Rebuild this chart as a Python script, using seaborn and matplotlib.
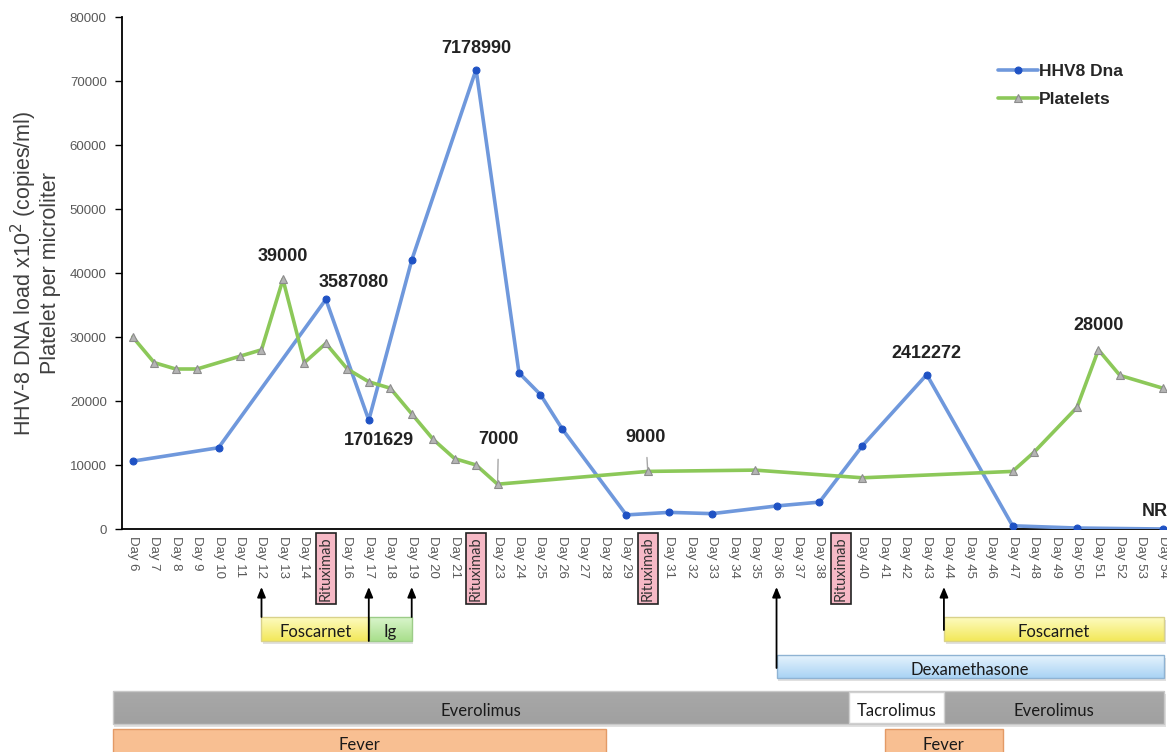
import numpy as np
import pandas as pd
import matplotlib
matplotlib.use("Agg")
import matplotlib.pyplot as plt
import seaborn as sns
from matplotlib.patches import Rectangle
from matplotlib.colors import LinearSegmentedColormap

# ---------------- data ----------------
days = list(range(6, 55))
rituximab_days = [15, 22, 30, 39]
day_labels = ["Rituximab" if d in rituximab_days else f"Day {d}" for d in days]

# HHV-8 DNA load in copies/ml (plotted as x10^2)
hhv8_days = [6, 10, 15, 17, 19, 22, 24, 25, 26, 29, 31, 33, 36, 38, 40, 43, 47, 50, 54]
hhv8_copies = [1060000, 1270000, 3587080, 1701629, 4200000, 7178990, 2440000, 2100000,
               1570000, 220000, 260000, 240000, 360000, 420000, 1300000, 2412272,
               50000, 15000, 0]
hhv8_labelled = [15, 17, 22, 43]

# platelets per microliter
platelet_days = [6, 7, 8, 9, 11, 12, 13, 14, 15, 16, 17, 18, 19, 20, 21, 22, 23,
                 30, 35, 40, 47, 48, 50, 51, 52, 54]
platelets = [30000, 26000, 25000, 25000, 27000, 28000, 39000, 26000, 29000, 25000,
             23000, 22000, 18000, 14000, 11000, 10000, 7000, 9000, 9200, 8000,
             9000, 12000, 19000, 28000, 24000, 22000]
platelet_labelled = [13, 23, 30, 51]

# treatments and events (start day, end day)
antiviral_names = ["Foscarnet", "Ig", "Foscarnet"]
antiviral_start = [12, 17, 43.8]
antiviral_end = [17, 19, 54.05]
steroid_names = ["Dexamethasone"]
steroid_start = [36]
steroid_end = [54.05]
immuno_names = ["Everolimus", "Tacrolimus"]
immuno_start = [5.07, 39.4]
immuno_end = [54.05, 43.8]
fever_start = [5.07, 41.04]
fever_end = [28.04, 46.54]
arrow_days = [12, 17, 19, 36, 43.8]

# ---------------- style ----------------
sns.set_style("white")
plt.rcParams["font.family"] = ["Liberation Sans", "DejaVu Sans"]

W, H = 1167, 752
fig = plt.figure(figsize=(W / 100, H / 100), dpi=100)

x_lo, x_hi = 5.5, 54.5
px_per_day = 21.46
left_px = 122
right_px = left_px + (x_hi - x_lo) * px_per_day
ax = fig.add_axes([left_px / W, 1 - 529 / H, (right_px - left_px) / W, (529 - 17) / H])
ax2 = fig.add_axes([left_px / W, 0, (right_px - left_px) / W, 172 / H], sharex=ax)

blue_line, blue_mark = "#6f98dc", "#1f52c4"
green_line, green_mark = "#8cc859", "#a6a6a6"

hhv8_df = pd.DataFrame({"day": hhv8_days, "load": np.array(hhv8_copies) / 100})
plt_df = pd.DataFrame({"day": platelet_days, "count": platelets})

sns.lineplot(data=hhv8_df, x="day", y="load", ax=ax, color=blue_line, lw=2.6,
             marker="o", markersize=5, markerfacecolor=blue_mark,
             markeredgecolor=blue_mark, label="HHV8 Dna", zorder=3)
sns.lineplot(data=plt_df, x="day", y="count", ax=ax, color=green_line, lw=2.6,
             marker="^", markersize=5.5, markerfacecolor="#b4b4b4",
             markeredgecolor="#8c8c8c", markeredgewidth=0.8, label="Platelets", zorder=3)

ax.set_xlim(x_lo, x_hi)
ax.set_ylim(0, 80000)
ax.set_yticks(range(0, 80001, 10000))
ax.set_yticklabels([str(v) for v in range(0, 80001, 10000)])
ax.set_xticks(days)
ax.set_xticklabels(day_labels, rotation=-90, ha="center", va="top")
ax.tick_params(axis="x", length=0, pad=5, labelsize=9.5, labelcolor="#595959")
ax.tick_params(axis="y", length=5, width=1, color="#000000", pad=6,
               labelsize=9.5, labelcolor="#595959", left=True)
for lbl in ax.get_xticklabels():
    if lbl.get_text() == "Rituximab":
        lbl.set_rotation(90)
        lbl.set_color("#333333")
        lbl.set_fontfamily(["Lato", "DejaVu Sans"])
        lbl.set_fontsize(10.5)
        lbl.set_bbox(dict(boxstyle="square,pad=0.22", fc="#f6b9c6", ec="#222222", lw=1.2))

for side in ["top", "right"]:
    ax.spines[side].set_visible(False)
for side in ["left", "bottom"]:
    ax.spines[side].set_color("#000000")
    ax.spines[side].set_linewidth(1.3)

ax.set_xlabel("")
ax.set_ylabel("HHV-8 DNA load x10$^{2}$ (copies/ml)\nPlatelet per microliter",
              fontsize=15.5, color="#404040", linespacing=1.1, labelpad=6)

# value labels
ann_kw = dict(textcoords="offset points", ha="center", va="center",
              fontsize=13, fontweight="bold", color="#222222")
px = 0.72
hhv8_offsets = {15: (28, 17), 17: (10, -20), 22: (0, 21), 43: (0, 21)}
for d in hhv8_labelled:
    c = hhv8_copies[hhv8_days.index(d)]
    dx, dy = hhv8_offsets[d]
    ax.annotate(str(c), xy=(d, c / 100), xytext=(dx * px, dy * px), **ann_kw)
ax.annotate("NR", xy=(54, 0), xytext=(-8 * px, 17 * px), **ann_kw)

plt_offsets = {13: (0, 23), 23: (1, 45), 30: (-2, 34), 51: (0, 24)}
for d in platelet_labelled:
    v = platelets[platelet_days.index(d)]
    dx, dy = plt_offsets[d]
    extra = {}
    if dy > 30:
        extra["arrowprops"] = dict(arrowstyle="-", color="#a6a6a6", lw=1,
                                   shrinkA=6, shrinkB=2)
    ax.annotate(str(v), xy=(d, v), xytext=(dx * px, dy * px), **ann_kw, **extra)

leg = ax.legend(loc="upper left", bbox_to_anchor=(982 / W, 1 - 48 / H),
                bbox_transform=fig.transFigure, frameon=False, handlelength=2.3,
                handletextpad=0.1, labelspacing=0.75,
                prop={"family": "Liberation Sans", "weight": "bold", "size": 12.5})
for t in leg.get_texts():
    t.set_color("#262626")

# ---------------- treatment timeline ----------------
ax2.set_ylim(0, 172)
ax2.axis("off")


def grad_bar(x0, x1, y0, y1, c_top, c_bot, edge, lw=1.0):
    cmap = LinearSegmentedColormap.from_list("g", [c_top, c_bot])
    grad = np.linspace(0, 1, 64).reshape(-1, 1)
    ax2.add_patch(Rectangle((x0 + 0.08, y0 - 2.5), x1 - x0, y1 - y0, fc="#000000",
                            alpha=0.12, ec="none", zorder=1, clip_on=False))
    ax2.imshow(grad, extent=[x0, x1, y0, y1], origin="upper", cmap=cmap,
               aspect="auto", zorder=2, clip_on=False)
    ax2.add_patch(Rectangle((x0, y0), x1 - x0, y1 - y0, fc="none", ec=edge, lw=lw,
                            zorder=3, clip_on=False))


bar_font = dict(family=["Lato", "DejaVu Sans"], fontsize=12, color="#1a1a1a",
                ha="center", va="center", zorder=5)

antiviral_colors = {"Foscarnet": ("#fdfbc0", "#f3e85a", "#d9d28a"),
                    "Ig": ("#d9f5cc", "#a9df8c", "#9ccc88")}
for name, s, e in zip(antiviral_names, antiviral_start, antiviral_end):
    top, bot, edge = antiviral_colors[name]
    grad_bar(s, e, 111, 135, top, bot, edge)
    ax2.text((s + e) / 2, 120, name, **bar_font)

for name, s, e in zip(steroid_names, steroid_start, steroid_end):
    grad_bar(s, e, 74, 97, "#e6f3fd", "#a9d3f4", "#8fb3d3")
    ax2.text((s + e) / 2, 82, name, **bar_font)

ev_s, ev_e = immuno_start[0], immuno_end[0]
grad_bar(ev_s, ev_e, 28, 61, "#a8a8a8", "#a0a0a0", "#c8c8c8")
tc_s, tc_e = immuno_start[1], immuno_end[1]
ax2.add_patch(Rectangle((tc_s, 29), tc_e - tc_s, 31, fc="#ffffff", ec="#d0d0d0",
                        lw=1, zorder=4, clip_on=False))
ax2.text((ev_s + tc_s) / 2, 41, immuno_names[0], **bar_font)
ax2.text((tc_e + ev_e) / 2, 41, immuno_names[0], **bar_font)
ax2.text((tc_s + tc_e) / 2, 41, immuno_names[1], **bar_font)

for s, e in zip(fever_start, fever_end):
    ax2.add_patch(Rectangle((s, -6), e - s, 29, fc="#f8bf92", ec="#e39a66", lw=1,
                            zorder=3, clip_on=False))
    ax2.text((s + e) / 2, 7, "Fever", **bar_font)

arrow_from = {12: 135, 17: 111, 19: 135, 36: 84, 43.8: 122}
for d in arrow_days:
    ax2.annotate("", xy=(d, 165), xytext=(d, arrow_from[d]),
                 arrowprops=dict(arrowstyle="-|>,head_length=0.6,head_width=0.25",
                                 color="#000000", lw=1.3, shrinkA=0, shrinkB=0),
                 zorder=6)

ax.set_xlim(x_lo, x_hi)
ax2.set_ylim(0, 172)
fig.savefig("out.png", dpi=100)
